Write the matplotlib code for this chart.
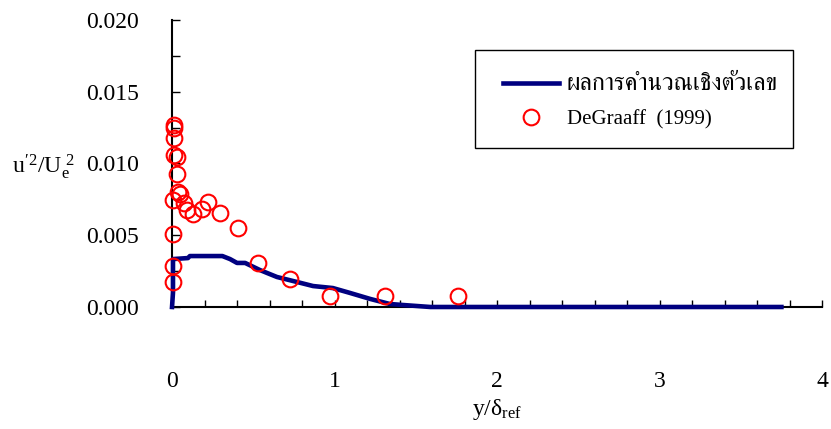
import matplotlib
matplotlib.use("Agg")
import matplotlib.pyplot as plt
from matplotlib import font_manager
from matplotlib.ft2font import FT2Font
from matplotlib.patches import Rectangle
from matplotlib.ticker import MultipleLocator

# Numerical result (computed profile)
calc_x = [0.0, 0.006, 0.006, 0.098, 0.11, 0.31, 0.357, 0.40, 0.45, 0.54, 0.585,
          0.646, 0.77, 0.868, 0.99, 1.095, 1.22, 1.34, 1.42, 1.59, 3.75]
calc_y = [0.0, 0.0010, 0.00334, 0.00341, 0.00355, 0.00355, 0.00334, 0.00307,
          0.00307, 0.00258, 0.00237, 0.00209, 0.00174, 0.00146, 0.00132,
          0.00098, 0.00056, 0.00021, 0.00014, 0.0, 0.0]

# DeGraaff (1999) measurements
exp_x = [0.012, 0.012, 0.012, 0.012, 0.031, 0.031, 0.006, 0.037, 0.049, 0.074,
         0.092, 0.129, 0.185, 0.222, 0.295, 0.406, 0.006, 0.529, 0.006, 0.006,
         0.726, 0.972, 1.311, 1.76]
exp_y = [0.01268, 0.01247, 0.01178, 0.01059, 0.01045, 0.00927, 0.00746, 0.00801,
         0.00787, 0.00725, 0.00676, 0.00648, 0.00683, 0.00732, 0.00655, 0.00551,
         0.00509, 0.00307, 0.00286, 0.00174, 0.00195, 0.00077, 0.00077, 0.00077]

x_ticks = [0, 1, 2, 3, 4]
y_ticks = [0.000, 0.005, 0.010, 0.015, 0.020]

label_calc = "ผลการคำนวณเชิงตัวเลข"
label_exp = "DeGraaff  (1999)"


def thai_family():
    """Pick an installed family that can draw Thai script."""
    found = []
    for f in font_manager.fontManager.ttflist:
        try:
            cmap = FT2Font(f.fname).get_charmap()
        except Exception:
            continue
        if ord("ผ") in cmap and ord("ค") in cmap:
            found.append(f.name)
    serif = [n for n in found if "serif" in n.lower() and "sans" not in n.lower()]
    if serif:
        return serif[0]
    return found[0] if found else "DejaVu Sans"


plt.rcParams["font.family"] = ["Liberation Serif", "DejaVu Serif"]
plt.rcParams["mathtext.fontset"] = "custom"
plt.rcParams["mathtext.rm"] = "Liberation Serif"
plt.rcParams["mathtext.it"] = "Liberation Serif"

TH = thai_family()

W, H = 831, 429
fig = plt.figure(figsize=(W / 100, H / 100), dpi=100)
ax = fig.add_axes([0.2070, 0.2844, 0.9892 - 0.2070, 0.9534 - 0.2844])

ax.plot(calc_x, calc_y, color="#000080", lw=3.3, solid_joinstyle="round",
        label=label_calc, zorder=3, clip_on=False)
ax.plot(exp_x, exp_y, linestyle="none", marker="o", ms=11.3, mfc="none",
        mec="#ff0000", mew=1.5, label=label_exp, zorder=4, clip_on=False)

ax.set_xlim(0, 4)
ax.set_ylim(0, 0.020)
ax.set_xticks(x_ticks)
ax.set_xticklabels([str(v) for v in x_ticks])
ax.set_yticks(y_ticks)
ax.set_yticklabels([f"{v:.3f}" for v in y_ticks])
ax.xaxis.set_minor_locator(MultipleLocator(0.2))
ax.yaxis.set_minor_locator(MultipleLocator(0.0025))

for s in ("top", "right"):
    ax.spines[s].set_visible(False)
for s in ("left", "bottom"):
    ax.spines[s].set_linewidth(1.5)
    ax.spines[s].set_color("black")

ax.tick_params(axis="x", which="both", direction="in", length=5, width=1.0,
               labelsize=17, pad=46)
ax.tick_params(axis="y", which="both", direction="in", length=6, width=1.0,
               labelsize=17, pad=24)

ax.set_xlabel(r"$\mathregular{y/δ_{ref}}$", fontsize=17, labelpad=4)
fig.text(12 / W, 1 - 173 / H, r"$\mathregular{u'^2/U_e^{\ 2}}$",
         fontsize=17, ha="left", va="baseline")

# Legend box drawn as a plain rectangle, entries placed inside it
fig.patches.append(Rectangle((475 / W, 1 - 148 / H), 318 / W, 98 / H,
                             transform=fig.transFigure, facecolor="white",
                             edgecolor="black", linewidth=1.0, zorder=5))
handles, labels = ax.get_legend_handles_labels()
leg = fig.legend(handles, labels, loc="upper left",
                 bbox_to_anchor=(503 / W, 1 - 74 / H),
                 bbox_transform=fig.transFigure, frameon=False,
                 fontsize=15, handlelength=2.7, handletextpad=0.35,
                 borderpad=0.0, labelspacing=0.69, borderaxespad=0.0)
leg.set_zorder(6)
thai_text = leg.get_texts()[0]
thai_text.set_fontfamily([TH, "Liberation Serif"])
thai_text.set_fontsize(17.5)

fig.savefig("out.png", dpi=100)
